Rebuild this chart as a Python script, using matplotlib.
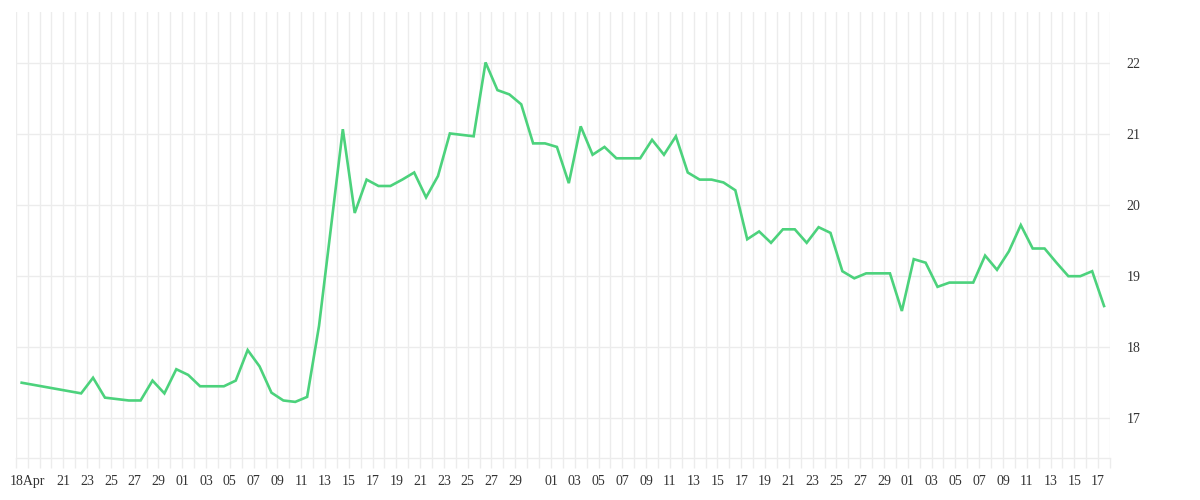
import numpy as np
import pandas as pd
import matplotlib
matplotlib.use("Agg")
import matplotlib.pyplot as plt
import matplotlib.dates as mdates

# ---------------------------------------------------------------------------
# Data
# ---------------------------------------------------------------------------
first_date = ["2024-04-17"]
daily_start, daily_end = "2024-04-22", "2024-07-17"

values = [
    17.50,
    # Apr 22 - 30
    17.35, 17.57, 17.29, 17.27, 17.25, 17.25, 17.53, 17.35, 17.69,
    # May 1 - 31
    17.61, 17.45, 17.45, 17.45, 17.53, 17.96, 17.73, 17.36, 17.25, 17.23,
    17.30, 18.30, 19.68, 21.07, 19.89, 20.36, 20.27, 20.27, 20.36, 20.46,
    20.11, 20.41, 21.01, 20.99, 20.97, 22.01, 21.62, 21.56, 21.42, 20.87,
    20.87,
    # Jun 1 - 30
    20.82, 20.31, 21.11, 20.71, 20.82, 20.66, 20.66, 20.66, 20.92, 20.71,
    20.97, 20.46, 20.36, 20.36, 20.32, 20.21, 19.52, 19.63, 19.47, 19.66,
    19.66, 19.47, 19.69, 19.61, 19.07, 18.97, 19.04, 19.04, 19.04, 18.51,
    # Jul 1 - 17
    19.24, 19.19, 18.85, 18.91, 18.91, 18.91, 19.29, 19.09, 19.35, 19.72,
    19.39, 19.39, 19.19, 19.00, 19.00, 19.07, 18.58,
]

y_ticks = [17, 18, 19, 20, 21, 22]

# ---------------------------------------------------------------------------
# Build x positions (points sit at midday, grid at midnight)
# ---------------------------------------------------------------------------
dates = pd.to_datetime(first_date).append(pd.date_range(daily_start, daily_end))
x = mdates.date2num(dates.to_pydatetime()) + 0.5

x_min = mdates.date2num(pd.Timestamp("2024-04-17"))
x_max = mdates.date2num(pd.Timestamp("2024-07-18"))

day_ticks = pd.date_range("2024-04-17", "2024-07-18")
tick_labels = []
for d in day_ticks:
    if d == pd.Timestamp("2024-04-18"):
        tick_labels.append("18Apr")
    elif d.day % 2 == 1 and d.day != 31 and d > pd.Timestamp("2024-04-19") \
            and d < pd.Timestamp("2024-07-18"):
        tick_labels.append(f"{d.day:02d}")
    else:
        tick_labels.append("")

# ---------------------------------------------------------------------------
# Plot
# ---------------------------------------------------------------------------
GRID = "#ececec"
TEXT = "#333333"

fig = plt.figure(figsize=(12, 5), dpi=100)
ax = fig.add_axes([0.0131, 0.084, 0.925 - 0.0131, 0.976 - 0.084])

ax.plot(x, values, color="#4cd27c", linewidth=1.9, solid_joinstyle="miter",
        zorder=3)

ax.set_xlim(x_min, x_max)
ax.set_ylim(16.44, 22.72)

ax.set_xticks(mdates.date2num(day_ticks.to_pydatetime()))
ax.set_xticklabels(tick_labels)
ax.set_yticks(y_ticks)
ax.yaxis.tick_right()

ax.grid(True, color=GRID, linewidth=1.0, zorder=0)

for side in ["top", "left", "right"]:
    ax.spines[side].set_visible(False)
ax.spines["bottom"].set_color(GRID)
ax.spines["bottom"].set_linewidth(1.0)

ax.tick_params(axis="x", length=7, width=1.0, color=GRID, pad=5,
               labelsize=10, labelcolor=TEXT)
ax.tick_params(axis="y", length=0, pad=12, labelsize=10, labelcolor=TEXT)
for lbl in ax.get_xticklabels() + ax.get_yticklabels():
    lbl.set_fontfamily(["Liberation Serif", "DejaVu Serif"])

fig.savefig("out.png", dpi=100, facecolor="white")
